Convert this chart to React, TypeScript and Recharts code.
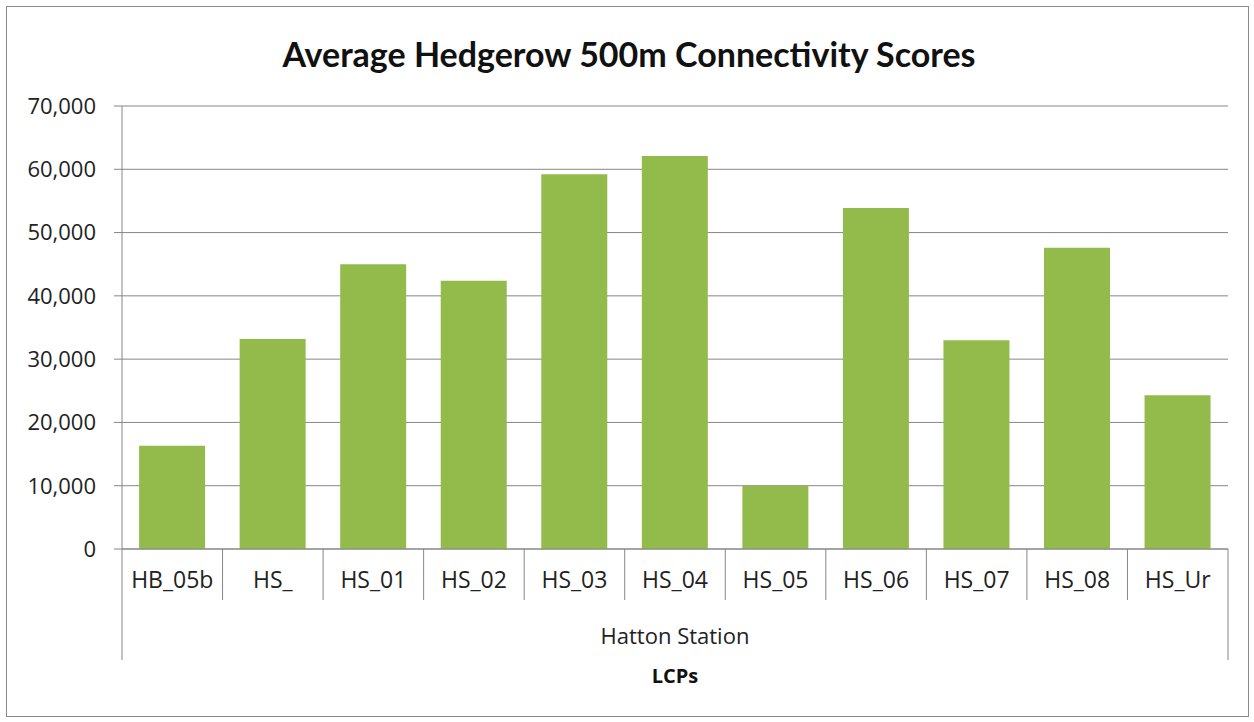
import React from 'react';
import { BarChart, Bar, XAxis, YAxis, CartesianGrid } from 'recharts';

const CATEGORIES = ['HB_05b', 'HS_', 'HS_01', 'HS_02', 'HS_03', 'HS_04', 'HS_05', 'HS_06', 'HS_07', 'HS_08', 'HS_Ur'];
const SCORES = [16300, 33200, 45000, 42400, 59200, 62100, 10000, 53900, 33000, 47600, 24300];
const Y_TICKS = [0, 10000, 20000, 30000, 40000, 50000, 60000, 70000];
const GROUP_LABEL = 'Hatton Station';
const AXIS_TITLE = 'LCPs';
const CHART_TITLE = 'Average Hedgerow 500m Connectivity Scores';

const data = CATEGORIES.map((name, i) => ({ name, score: SCORES[i] }));

const TITLE_FONT = 'Lato, "Open Sans", sans-serif';
const FONT = '"Open Sans", Lato, sans-serif';
const GRID = '#868686';
const BAR = '#92bb4c';

const fmt = (v: number) => v.toLocaleString('en-US');

// category label plus the Excel-style separator lines between categories
const CategoryTick = (props: any) => {
  const { x, y, payload, index } = props;
  const half = payload && payload.offset ? payload.offset : 50.3;
  const last = index === CATEGORIES.length - 1;
  return (
    <g>
      <line x1={x - half} x2={x - half} y1={y} y2={index === 0 ? y + 111 : y + 51} stroke={GRID} strokeWidth={1} />
      {last && <line x1={x + half} x2={x + half} y1={y} y2={y + 111} stroke={GRID} strokeWidth={1} />}
      <text x={x} y={y + 33} textAnchor="middle" dominantBaseline="middle" fill="#222" fontSize={23} fontFamily={FONT}>
        {payload.value}
      </text>
    </g>
  );
};

export default function App() {
  return (
    <div style={{ position: 'absolute', left: 0, top: 0, width: 1254, height: 722, background: '#fff', fontFamily: FONT }}>
      <div style={{ position: 'absolute', left: 6, top: 6, width: 1241, height: 709, border: '1px solid #8a8a8a' }} />
      <div style={{ position: 'absolute', left: 0, top: 33, width: 1258, textAlign: 'center', fontSize: 34, fontWeight: 700, color: '#111', fontFamily: TITLE_FONT }}>
        {CHART_TITLE}
      </div>
      <div style={{ position: 'absolute', left: 122, top: 620, width: 1106, textAlign: 'center', fontSize: 22, color: '#222' }}>
        {GROUP_LABEL}
      </div>
      <div style={{ position: 'absolute', left: 122, top: 662, width: 1106, textAlign: 'center', fontSize: 20, fontWeight: 700, color: '#111' }}>
        {AXIS_TITLE}
      </div>
      <div style={{ position: 'absolute', left: 0, top: 0 }}>
        <BarChart width={1254} height={722} data={data} margin={{ top: 106, right: 26, bottom: 73, left: 0 }} barCategoryGap="17%">
          <CartesianGrid vertical={false} stroke={GRID} strokeWidth={1} />
          <XAxis
            dataKey="name"
            height={100}
            tickSize={0}
            tickMargin={0}
            tickLine={false}
            axisLine={{ stroke: GRID }}
            tick={<CategoryTick />}
            interval={0}
          />
          <YAxis
            width={122}
            domain={[0, 70000]}
            ticks={Y_TICKS}
            tickFormatter={fmt}
            tickSize={8}
            tickMargin={18}
            tickLine={{ stroke: GRID }}
            axisLine={{ stroke: GRID }}
            tick={{ fill: '#222', fontSize: 22, fontFamily: FONT }}
            interval={0}
          />
          <Bar dataKey="score" fill={BAR} isAnimationActive={false} />
        </BarChart>
      </div>
    </div>
  );
}
